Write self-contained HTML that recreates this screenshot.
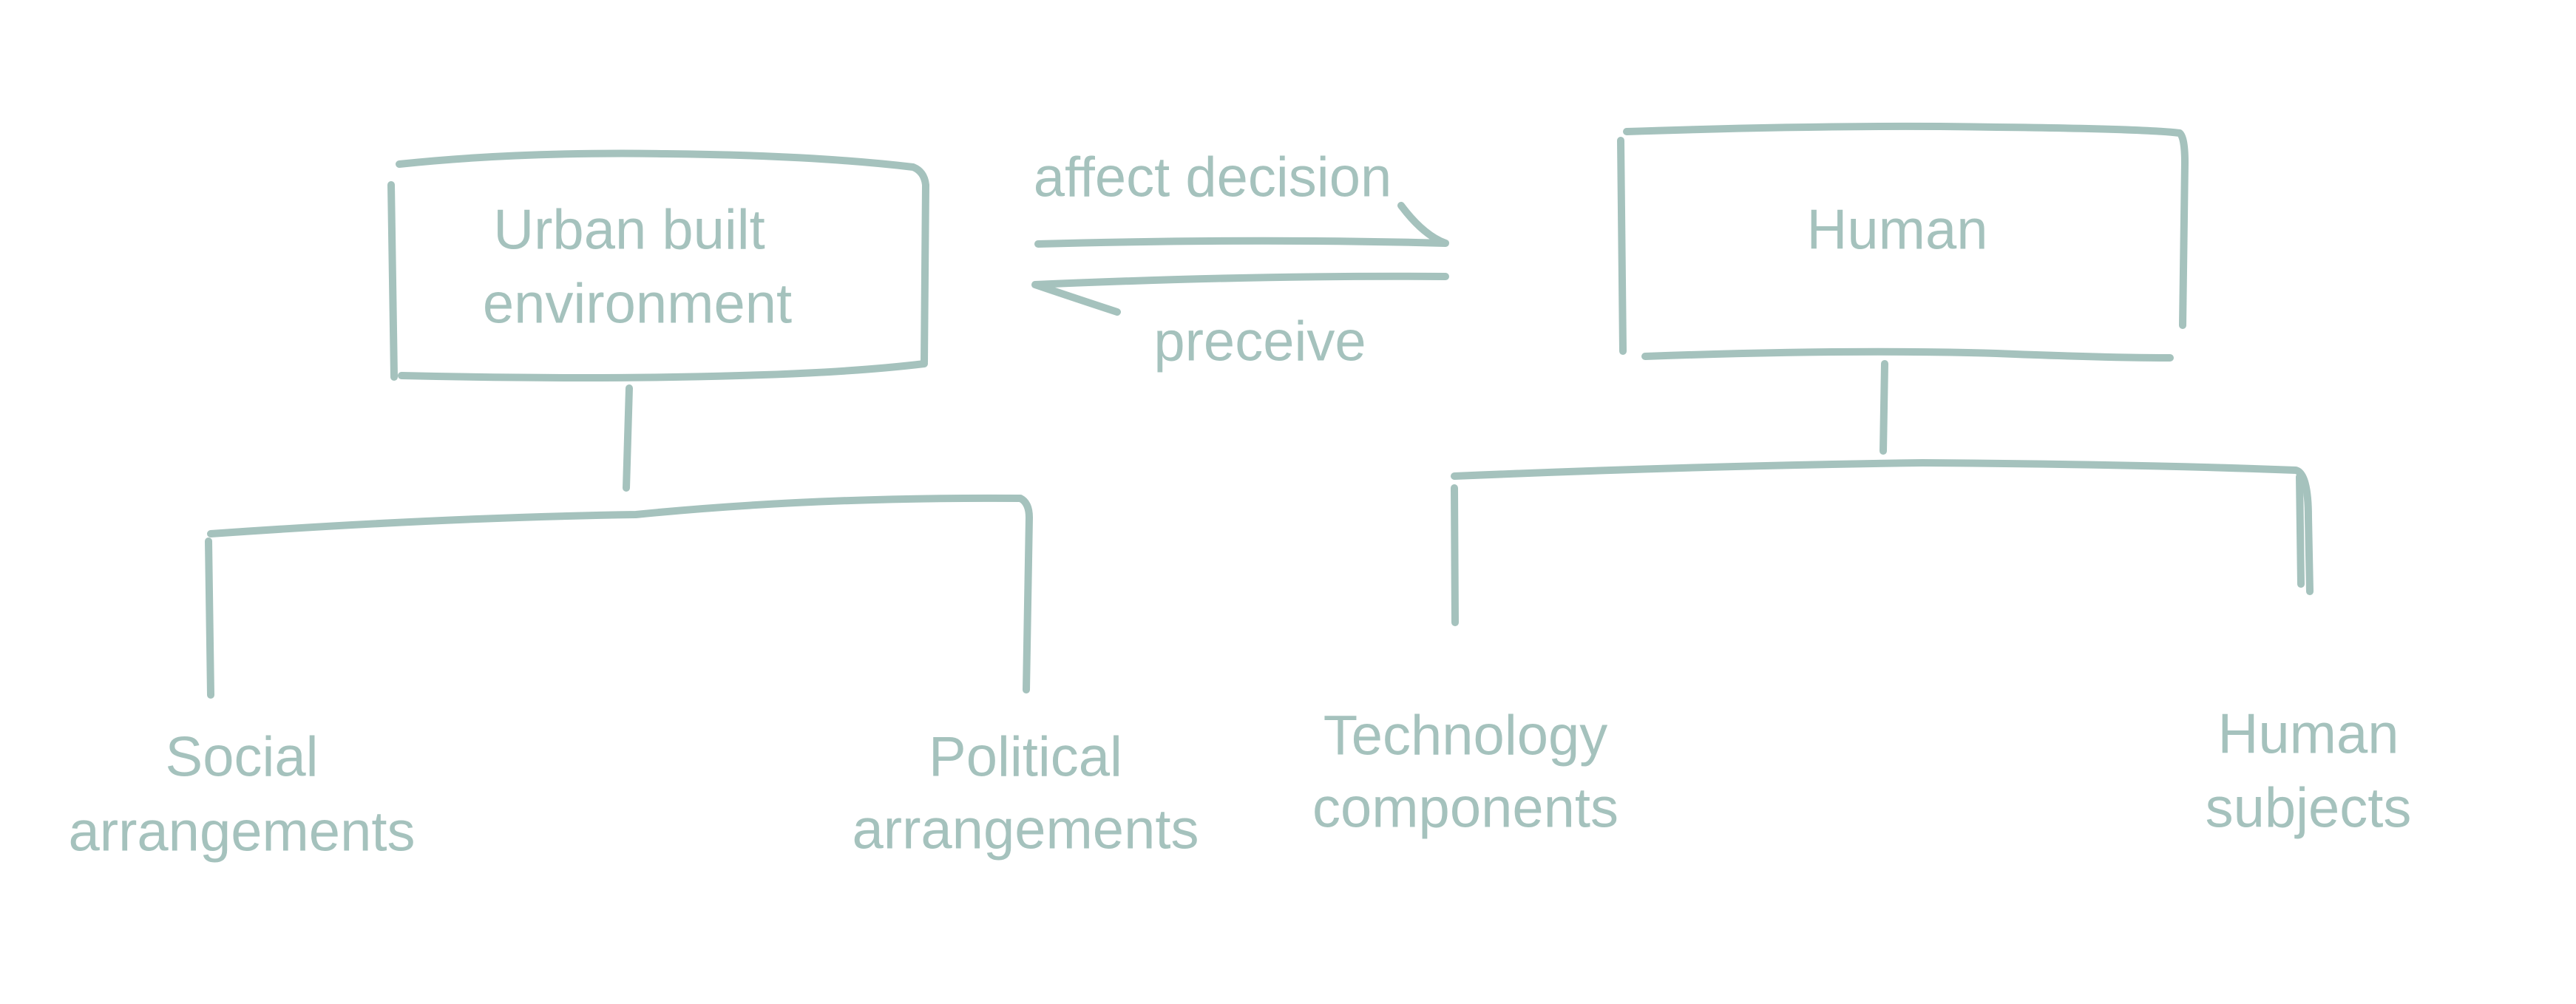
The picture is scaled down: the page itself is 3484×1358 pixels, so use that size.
<!DOCTYPE html>
<html><head><meta charset="utf-8"><style>
html,body{margin:0;padding:0;background:#fff;}
svg{display:block;}
text{font-family:"Liberation Sans",sans-serif;fill:#a5c2bd;font-size:76px;text-anchor:middle;dominant-baseline:central;}
</style></head><body>
<svg width="3484" height="1358" viewBox="0 0 3484 1358" xmlns="http://www.w3.org/2000/svg">
<g fill="none" stroke="#a5c2bd" stroke-width="10" stroke-linecap="round" stroke-linejoin="round">
<path d="M540 222 Q700 205 900 208 Q1100 210 1235 226 Q1250 232 1252 250 L1250 490"/>
<path d="M529 250 L533 510"/>
<path d="M543 508 Q800 514 1000 508 Q1150 504 1250 492"/>
<path d="M2200 178 Q2500 168 2700 172 Q2900 174 2948 180 Q2955 186 2955 220 L2952 440"/>
<path d="M2192 190 L2195 475"/>
<path d="M2225 482 Q2500 472 2700 478 Q2850 484 2935 484"/>
<path d="M1404 330 Q1700 322 1955 329 Q1925 318 1895 278"/>
<path d="M1955 374 Q1700 372 1400 385 Q1450 402 1511 422"/>
<path d="M851 525 L847 660"/>
<path d="M285 722 Q600 700 860 696 Q1100 672 1380 674 Q1392 680 1392 700 L1388 933"/>
<path d="M282 732 L285 940"/>
<path d="M2549 492 L2547 610"/>
<path d="M1967 644 Q2300 630 2600 626 Q2900 628 3105 636 Q3122 640 3122 700 L3124 800"/>
<path d="M3110 645 L3112 790"/>
<path d="M1967 660 L1968 842"/>
</g>
<text x="851" y="311">Urban built</text>
<text x="862" y="411">environment</text>
<text x="2566" y="311">Human</text>
<text x="1640" y="240">affect decision</text>
<text x="1704" y="462">preceive</text>
<text x="327" y="1024">Social</text>
<text x="327" y="1125">arrangements</text>
<text x="1387" y="1024">Political</text>
<text x="1387" y="1122">arrangements</text>
<text x="1982" y="995">Technology</text>
<text x="1982" y="1093">components</text>
<text x="3122" y="993">Human</text>
<text x="3122" y="1093">subjects</text>
</svg>
</body></html>
